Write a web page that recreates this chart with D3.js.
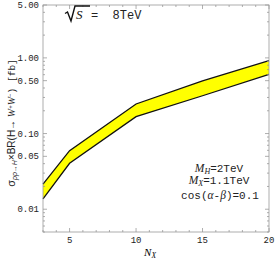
<!DOCTYPE html>
<html lang="en">
<head>
<meta charset="UTF-8">
<title>sigma x BR vs N_X</title>
<script src="https://d3js.org/d3.v7.min.js"></script>
<style>
    body { margin: 0; padding: 0; background: white; }
    svg { display: block; }
    .mono { font-family: 'Liberation Mono', 'Courier New', monospace; font-size: 9px; fill: #222; }
    .ital { font-family: 'Liberation Serif', 'DejaVu Serif', serif; font-style: italic; }
</style>
</head>
<body>
<svg id="chart" width="275" height="262"></svg>
<script>
// values
const nx = [3, 5, 10, 15, 20];
const upper = [0.0214, 0.0594, 0.246, 0.496, 0.918];
const lower = [0.0137, 0.0405, 0.167, 0.316, 0.607];
const xTicks = [5, 10, 15, 20];
const yTicks = [0.01, 0.05, 0.1, 0.5, 1, 5];
const yTickLabels = ["0.01", "0.05", "0.10", "0.50", "1.00", "5.00"];

const width = 275, height = 262;
const margin = { top: 5, right: 6, bottom: 30, left: 43 };
const svg = d3.select("#chart");

const x = d3.scaleLinear().domain([3, 20]).range([margin.left, width - margin.right]);
const y = d3.scaleLog().domain([0.005, 5]).range([height - margin.bottom, margin.top]);

const band = nx.map((d, i) => ({ x: d, lo: lower[i], hi: upper[i] }));

// yellow band
svg.append("path")
    .datum(band)
    .attr("fill", "#ffff00")
    .attr("d", d3.area().x(d => x(d.x)).y0(d => y(d.lo)).y1(d => y(d.hi)));

const line = d3.line().x(d => x(d[0])).y(d => y(d[1]));
[upper, lower].forEach(s => {
    svg.append("path")
        .datum(nx.map((d, i) => [d, s[i]]))
        .attr("fill", "none")
        .attr("stroke", "#111")
        .attr("stroke-width", 1.3)
        .attr("d", line);
});

// minor ticks
const xMinor = d3.range(3, 21).filter(d => xTicks.indexOf(d) < 0);
const yMinor = [];
[0.001, 0.01, 0.1, 1].forEach(dec => {
    [1, 2, 3, 4, 5, 6, 7, 8, 9].forEach(m => {
        const v = +(m * dec).toPrecision(3);
        if (v >= 0.005 && v <= 5 && yTicks.indexOf(v) < 0) yMinor.push(v);
    });
});

const frame = svg.append("g").attr("stroke", "#999").attr("stroke-width", 0.8);
function tickSet(g, vals, len, vert) {
    vals.forEach(v => {
        if (vert) {
            const yy = y(v);
            g.append("line").attr("x1", margin.left).attr("x2", margin.left + len).attr("y1", yy).attr("y2", yy);
            g.append("line").attr("x1", width - margin.right).attr("x2", width - margin.right - len).attr("y1", yy).attr("y2", yy);
        } else {
            const xx = x(v);
            g.append("line").attr("y1", height - margin.bottom).attr("y2", height - margin.bottom - len).attr("x1", xx).attr("x2", xx);
            g.append("line").attr("y1", margin.top).attr("y2", margin.top + len).attr("x1", xx).attr("x2", xx);
        }
    });
}
tickSet(frame, xTicks, 4, false);
tickSet(frame, xMinor, 2, false);
tickSet(frame, yTicks, 4, true);
tickSet(frame, yMinor, 2, true);

frame.append("rect")
    .attr("x", margin.left).attr("y", margin.top)
    .attr("width", width - margin.left - margin.right)
    .attr("height", height - margin.top - margin.bottom)
    .attr("fill", "none");

// tick labels
svg.selectAll(".xl").data(xTicks).enter().append("text")
    .attr("class", "mono")
    .attr("x", d => x(d)).attr("y", height - margin.bottom + 11)
    .attr("text-anchor", "middle")
    .text(d => d);

svg.selectAll(".yl").data(yTicks).enter().append("text")
    .attr("class", "mono")
    .attr("x", margin.left - 4).attr("y", d => y(d)).attr("dy", "0.35em")
    .attr("text-anchor", "end")
    .text((d, i) => yTickLabels[i]);

// x label
const xl = svg.append("text").attr("x", 150).attr("y", 256).attr("text-anchor", "middle")
    .attr("class", "ital").attr("font-size", 11);
xl.append("tspan").text("N");
xl.append("tspan").attr("font-size", 7.5).attr("dy", 2).text("X");

// y label
const yl = svg.append("text")
    .attr("transform", "translate(15,123) rotate(-90)")
    .attr("text-anchor", "middle")
    .attr("font-family", "'Liberation Sans', Arial, sans-serif")
    .attr("font-size", 10).attr("fill", "#222");
yl.append("tspan").attr("font-size", 11).text("σ");
yl.append("tspan").attr("font-size", 7).attr("dy", 2).attr("font-style", "italic").text("pp→H");
yl.append("tspan").attr("dy", -2).text("×BR(H→ ");
yl.append("tspan").attr("font-style", "italic").attr("font-family", "'Liberation Serif', serif").text("W");
yl.append("tspan").attr("font-size", 6).attr("dy", -3).text("+");
yl.append("tspan").attr("dy", 3).attr("font-style", "italic").attr("font-family", "'Liberation Serif', serif").text("W");
yl.append("tspan").attr("font-size", 6).attr("dy", -3).text("−");
yl.append("tspan").attr("dy", 3).attr("font-family", "'Liberation Mono', monospace").attr("font-size", 9.5).text(") [fb]");

// sqrt(S) label
const rs = svg.append("g");
rs.append("path")
    .attr("d", "M65,13.5 L67.5,12 L71,21 L75,6 L90,6")
    .attr("fill", "none").attr("stroke", "#111").attr("stroke-width", 1.4);
rs.append("text").attr("x", 76).attr("y", 19).attr("class", "ital").attr("font-size", 13).attr("fill", "#111").text("S");
rs.append("text").attr("x", 91).attr("y", 19).attr("class", "mono").style("font-size", "12px")
    .attr("xml:space", "preserve").text("=  8TeV");

// parameter annotation
const ann = [["M", "H", "=2TeV"], ["M", "X", "=1.1TeV"]];
ann.forEach((a, i) => {
    const t = svg.append("text").attr("x", 219).attr("y", 172 + i * 12).attr("text-anchor", "middle")
        .attr("class", "mono").style("font-size", "11px");
    t.append("tspan").attr("class", "ital").attr("font-size", 11.5).text(a[0]);
    t.append("tspan").attr("class", "ital").attr("font-size", 8).attr("dy", 2).text(a[1]);
    t.append("tspan").attr("dy", -2).text(a[2]);
});
const c = svg.append("text").attr("x", 220).attr("y", 199).attr("text-anchor", "middle")
    .attr("class", "mono").style("font-size", "11px");
c.append("tspan").text("cos(");
c.append("tspan").attr("class", "ital").attr("font-size", 11.5).text("α");
c.append("tspan").text("-");
c.append("tspan").attr("class", "ital").attr("font-size", 11.5).text("β");
c.append("tspan").text(")=0.1");
</script>
</body>
</html>
